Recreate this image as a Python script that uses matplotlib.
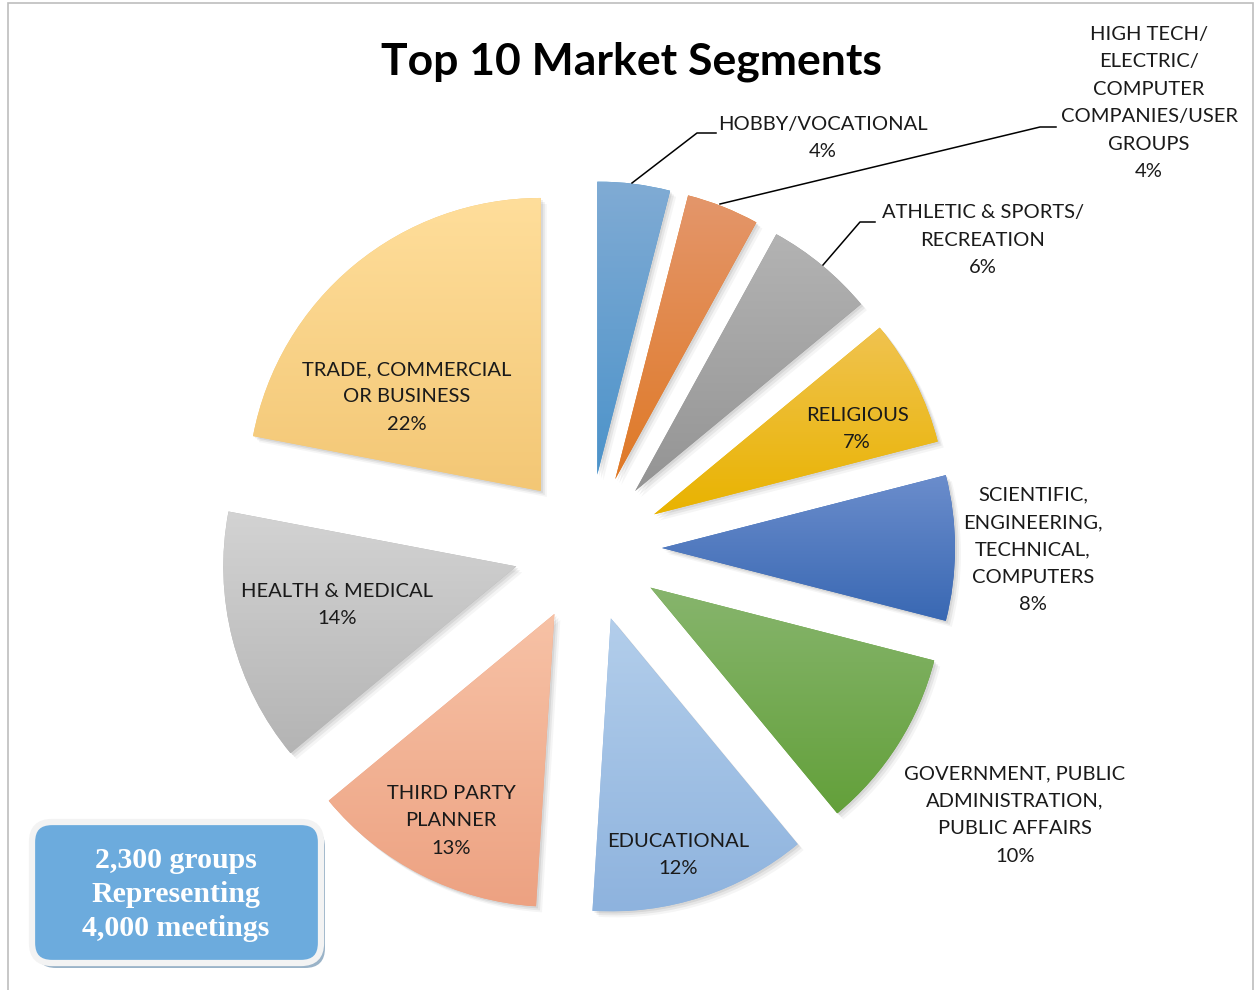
import numpy as np
import matplotlib
matplotlib.use("Agg")
import matplotlib.pyplot as plt
from matplotlib.patches import Wedge, FancyBboxPatch, Rectangle
from matplotlib.colors import LinearSegmentedColormap

# ---- data ----
categories = [
    "HOBBY/VOCATIONAL",
    "HIGH TECH/\nELECTRIC/\nCOMPUTER\nCOMPANIES/USER\nGROUPS",
    "ATHLETIC & SPORTS/\nRECREATION",
    "RELIGIOUS",
    "SCIENTIFIC,\nENGINEERING,\nTECHNICAL,\nCOMPUTERS",
    "GOVERNMENT, PUBLIC\nADMINISTRATION,\nPUBLIC AFFAIRS",
    "EDUCATIONAL",
    "THIRD PARTY\nPLANNER",
    "HEALTH & MEDICAL",
    "TRADE, COMMERCIAL\nOR BUSINESS",
]
shares = [4, 4, 6, 7, 8, 10, 12, 13, 14, 22]
title = "Top 10 Market Segments"
box_lines = ["2,300 groups", "Representing", "4,000 meetings"]

# ---- styling ----
grad_top = ['#80ABD4', '#E4966B', '#B3B3B3', '#F0C350', '#6B8DCC',
            '#87B56D', '#B3CEEB', '#F7C2A6', '#D3D3D3', '#FFDE9B']
grad_bot = ['#4C93CA', '#DF7926', '#949494', '#E9B300', '#3968B3',
            '#63A03A', '#8EB3DE', '#EDA282', '#B4B4B4', '#F3C775']

W, H = 1255, 990
def Y(y):
    return H - y

fig = plt.figure(figsize=(W / 100, H / 100), dpi=100)
ax = fig.add_axes([0, 0, 1, 1])

R = 293
explode_frac = 0.2526
center = (588, Y(548))
wedges, _ = ax.pie(shares, explode=[explode_frac * R] * len(shares), radius=R,
                   center=center, startangle=90, counterclock=False,
                   colors=grad_bot, wedgeprops=dict(linewidth=0))

for i, w in enumerate(wedges):
    w.set_zorder(3)
    cx, cy = w.center
    t1, t2 = np.deg2rad(w.theta1), np.deg2rad(w.theta2)
    ts = np.linspace(t1, t2, 100)
    xs = np.concatenate([[cx], cx + w.r * np.cos(ts)])
    ys = np.concatenate([[cy], cy + w.r * np.sin(ts)])
    # soft shadow
    for k, a in [(2, 0.07), (4, 0.06), (6, 0.04)]:
        sh = Wedge((cx + k, cy - k), w.r, w.theta1, w.theta2,
                   facecolor='black', alpha=a, linewidth=0, zorder=2)
        ax.add_patch(sh)
    cmap = LinearSegmentedColormap.from_list('g%d' % i, [grad_bot[i], grad_top[i]])
    grad = np.linspace(0, 1, 256).reshape(-1, 1)
    im = ax.imshow(grad, cmap=cmap, extent=[xs.min(), xs.max(), ys.min(), ys.max()],
                   origin='lower', aspect='auto', zorder=4, interpolation='bilinear')
    im.set_clip_path(w)

font = 'Lato'
fs = 14.5
pct = ["%d%%" % s for s in shares]
label_pos = [(823, 138), (1149, 103), (983, 240), (857, 429), (1033, 550),
             (1015, 815), (678, 855), (451, 821), (337, 605), (407, 397)]
for i, (x, y) in enumerate(label_pos):
    ax.text(x, Y(y), categories[i] + "\n" + pct[i], ha='center', va='center',
            fontsize=fs, family=font, color='#1a1a1a', linespacing=1.75, zorder=6)

# leader lines
leaders = [
    [(632, 183), (697, 133), (716, 133)],
    [(720, 204), (1040, 127), (1056, 127)],
    [(823, 265), (860, 222), (875, 222)],
]
for pts in leaders:
    ax.plot([p[0] for p in pts], [Y(p[1]) for p in pts], color='black', lw=1.1, zorder=5)

ax.text(631, Y(62), title, ha='center', va='center', fontsize=32,
        fontweight='bold', family=font, color='black', zorder=6)

# info box
ax.add_patch(FancyBboxPatch((36, Y(968)), 289, 141,
                            boxstyle='round,pad=0,rounding_size=20',
                            facecolor='#9AB3C8', edgecolor='none', zorder=5))
ax.add_patch(FancyBboxPatch((32, Y(963)), 289, 141,
                            boxstyle='round,pad=0,rounding_size=20',
                            facecolor='#6CABDD', edgecolor='#F3F3F3', linewidth=4.5, zorder=6))
for j, line in enumerate(box_lines):
    ax.text(176, Y(860 + j * 34), line, ha='center', va='center', fontsize=21.5,
            fontweight='bold', family='Liberation Serif', color='white', zorder=7)

# chart frame
ax.add_patch(Rectangle((8, Y(1000)), 1245, 997, facecolor='none',
                       edgecolor='#BDBDBD', linewidth=1.2, zorder=1))

ax.set_xlim(0, W)
ax.set_ylim(0, H)
ax.set_aspect('auto')
ax.axis('off')
fig.savefig('out.png', dpi=100, facecolor='white')
